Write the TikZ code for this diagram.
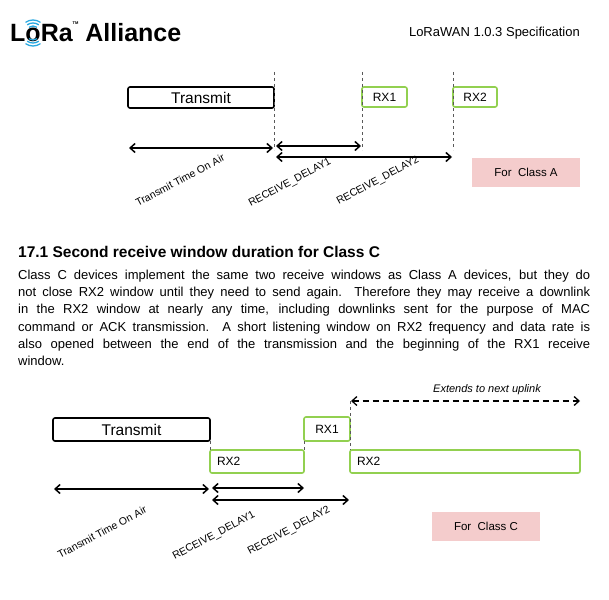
\documentclass[tikz,border=0pt]{standalone}
\usepackage{fontspec}
\setmainfont{Liberation Sans}
\usetikzlibrary{arrows.meta}
\definecolor{grn}{HTML}{92D050}
\definecolor{pnk}{HTML}{F4CCCC}
\definecolor{lblue}{HTML}{29A8E0}
\tikzset{
  tx/.style={draw=black,line width=1.6pt,rounded corners=2pt},
  rx/.style={draw=grn,line width=1.6pt,rounded corners=2pt},
  dl/.style={draw=gray!70!black,dashed,line width=0.5pt},
  dim/.style={{Straight Barb[length=5pt,width=9pt]}-{Straight Barb[length=5pt,width=9pt]},line width=1.5pt},
  lab/.style={rotate=28,font=\fontsize{10.5}{12}\selectfont,inner sep=0pt},
  cls/.style={fill=pnk,font=\fontsize{11.5}{13}\selectfont,minimum width=108pt,minimum height=29pt,inner sep=0pt},
}
\begin{document}
\begin{tikzpicture}[x=1pt,y=-1pt]
\useasboundingbox (0,0) rectangle (609,599);
% header
\node[anchor=west,inner sep=0pt,font=\fontsize{25}{27}\bfseries] (logo) at (10,32) {LoRa\raisebox{1.3ex}{\fontsize{4}{4}\selectfont TM}\ Alliance};
\foreach \r in {7,10,13}{
  \draw[lblue,line width=1.3pt] (33,33)++(55:\r) arc[start angle=55,end angle=125,radius=\r];
  \draw[lblue,line width=1.3pt] (33,33)++(-55:\r) arc[start angle=-55,end angle=-125,radius=\r];
}
\node[anchor=east,inner sep=0pt,font=\fontsize{13}{15}\selectfont] (spec) at (580,33) {LoRaWAN 1.0.3 Specification};
% top diagram
\node[tx,minimum width=146pt,minimum height=21pt,font=\fontsize{15.5}{17}\selectfont] (t1) at (201,97.5) {Transmit};
\node[rx,minimum width=45pt,minimum height=20pt,font=\fontsize{12}{14}\selectfont] (a1) at (384.5,97) {RX1};
\node[rx,minimum width=44pt,minimum height=20pt,font=\fontsize{12}{14}\selectfont] (a2) at (475,97) {RX2};
\coordinate (v1t) at (274,72); \coordinate (v1b) at (274,150);
\coordinate (v2t) at (362,72); \coordinate (v2b) at (362,150);
\coordinate (v3t) at (453,72); \coordinate (v3b) at (453,150);
\draw[dl] (v1t)--(v1b); \draw[dl] (v2t)--(v2b); \draw[dl] (v3t)--(v3b);
\coordinate (p0) at (129,148); \coordinate (p1) at (273,148);
\draw[dim] (p0)--(p1);
\coordinate (q0) at (276,146); \coordinate (q1) at (361,146);
\draw[dim] (q0)--(q1);
\coordinate (r0) at (276,157); \coordinate (r1) at (452,157);
\draw[dim] (r0)--(r1);
\node[lab] (l1) at (180,180) {Transmit Time On Air};
\node[lab] (l2) at (290,183) {RECEIVE\_DELAY1};
\node[lab] (l3) at (378,181) {RECEIVE\_DELAY2};
\node[cls] (ca) at (526,172) {For\ \ Class A};
% heading and text
\node[anchor=west,inner sep=0pt,font=\fontsize{15.5}{17}\bfseries] (h) at (18,252) {17.1 Second receive window duration for Class C};
\node[anchor=north west,inner sep=0pt,text width=572pt,align=justify,font=\fontsize{13}{17.3}\selectfont] (para) at (18,269.5)
{Class C devices implement the same two receive windows as Class A devices, but they do\linebreak not close RX2 window until they need to send again. Therefore they may receive a downlink\linebreak in the RX2 window at nearly any time, including downlinks sent for the purpose of MAC\linebreak command or ACK transmission. A short listening window on RX2 frequency and data rate is\linebreak also opened between the end of the transmission and the beginning of the RX1 receive\linebreak window.};
% bottom diagram
\node[tx,minimum width=157pt,minimum height=23pt,font=\fontsize{15.5}{17}\selectfont] (t2) at (131.5,429.5) {Transmit};
\node[rx,minimum width=46pt,minimum height=24pt,font=\fontsize{12}{14}\selectfont] (b1) at (327,429) {RX1};
\node[rx,minimum width=94pt,minimum height=23pt,font=\fontsize{12}{14}\selectfont,text width=80pt,align=left] (b2) at (257,461.5) {RX2};
\node[rx,minimum width=230pt,minimum height=23pt,font=\fontsize{12}{14}\selectfont,text width=216pt,align=left] (b3) at (465,461.5) {RX2};
\coordinate (w1t) at (210,441); \coordinate (w1b) at (210,450);
\coordinate (w2t) at (304,441); \coordinate (w2b) at (304,450);
\coordinate (w3t) at (350,401); \coordinate (w3b) at (350,450);
\draw[dl] (w1t)--(w1b); \draw[dl] (w2t)--(w2b); \draw[dl] (w3t)--(w3b);
\coordinate (e0) at (351,401); \coordinate (e1) at (580,401);
\draw[dim,dash pattern=on 6pt off 4pt,line width=1.3pt] (e0)--(e1);
\node[font=\itshape\fontsize{11}{12}\selectfont,inner sep=0pt] (ext) at (487,390) {Extends to next uplink};
\coordinate (s0) at (54,489); \coordinate (s1) at (209,489);
\draw[dim] (s0)--(s1);
\coordinate (u0) at (212,488); \coordinate (u1) at (304,488);
\draw[dim] (u0)--(u1);
\coordinate (k0) at (212,500); \coordinate (k1) at (349,500);
\draw[dim] (k0)--(k1);
\node[lab] (m1) at (102,532) {Transmit Time On Air};
\node[lab] (m2) at (214,536) {RECEIVE\_DELAY1};
\node[lab] (m3) at (289,531) {RECEIVE\_DELAY2};
\node[cls] (cc) at (486,526.5) {For\ \ Class C};
\end{tikzpicture}
\end{document}
